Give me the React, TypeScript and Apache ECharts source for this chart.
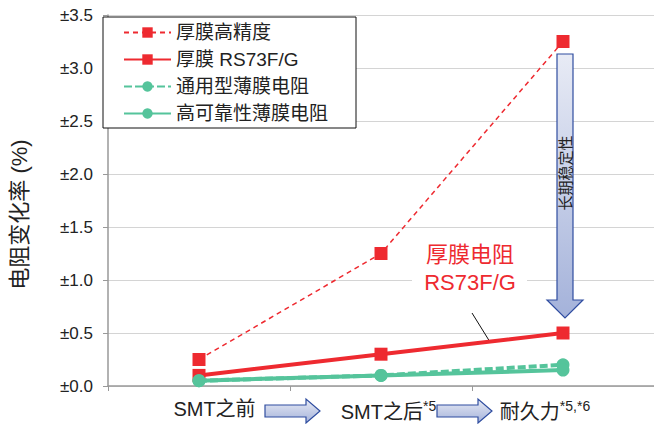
import React, { useEffect, useRef } from "react";
import * as echarts from "echarts";

const categories = ["SMT之前", "SMT之后", "耐久力"];
const categorySup = ["", "*5", "*5,*6"];
const seriesNames = ["厚膜高精度", "厚膜 RS73F/G", "通用型薄膜电阻", "高可靠性薄膜电阻"];
const thickHighPrecision = [0.25, 1.25, 3.25];
const thickRS73 = [0.1, 0.3, 0.5];
const thinGeneral = [0.05, 0.1, 0.2];
const thinHighRel = [0.05, 0.1, 0.15];
const yMin = 0;
const yMax = 3.5;
const yInterval = 0.5;
const yAxisName = "电阻变化率 (%)";
const arrowLabel = "长期稳定性";
const annotationLines = ["厚膜电阻", "RS73F/G"];

const RED = "#ee2a30";
const GREEN = "#55c49b";
const FONT = '"Liberation Sans", "Noto Sans CJK SC", sans-serif';

export default function App() {
  const ref = useRef<HTMLDivElement>(null);
  useEffect(() => {
    if (!ref.current) return;
    const chart = echarts.init(ref.current, null, { renderer: "svg" });
    const blueGrad = (x0: number, y0: number, x1: number, y1: number) =>
      new echarts.graphic.LinearGradient(x0, y0, x1, y1, [
        { offset: 0, color: "#e8ebf5" },
        { offset: 1, color: "#a4b2da" },
      ]);
    const hArrow = (x0: number, x1: number, cy: number) => {
      const hb = x1 - 14;
      return {
        type: "polygon",
        shape: {
          points: [
            [x0, cy - 6],
            [hb, cy - 6],
            [hb, cy - 12],
            [x1, cy],
            [hb, cy + 12],
            [hb, cy + 6],
            [x0, cy + 6],
          ],
        },
        style: { fill: blueGrad(0, 0, 0, 1), stroke: "#2f4da0", lineWidth: 1.2 },
        z: 10,
      };
    };
    const option: any = {
      animation: false,
      textStyle: { fontFamily: FONT },
      grid: { left: 101, top: 15, width: 555, bottom: 38, containLabel: false },
      legend: {
        left: 103,
        top: 17,
        orient: "vertical",
        backgroundColor: "#fff",
        borderColor: "#111",
        borderWidth: 1,
        borderRadius: 0,
        padding: [6, 28, 5, 20],
        itemGap: 8,
        itemWidth: 47,
        itemHeight: 13,
        textStyle: { fontSize: 19, color: "#222", fontFamily: FONT, lineHeight: 19 },
        data: seriesNames,
        z: 20,
      },
      xAxis: {
        type: "category",
        data: categories,
        boundaryGap: true,
        axisLine: { lineStyle: { color: "#999", width: 1.5 } },
        axisTick: { show: true, length: 5, lineStyle: { color: "#999" } },
        axisLabel: {
          margin: 13,
          interval: 0,
          color: "#222",
          formatter: (v: string, i: number) =>
            `{m${i}|${v}}` + (categorySup[i] ? `{s|${categorySup[i]}}` : ""),
          rich: {
            m0: { fontSize: 20, color: "#222", fontFamily: FONT, padding: [0, 0, 0, 31] },
            m1: { fontSize: 20, color: "#222", fontFamily: FONT, padding: [0, 0, 0, 15] },
            m2: { fontSize: 20, color: "#222", fontFamily: FONT, padding: [0, 0, 0, 0] },
            s: {
              fontSize: 14,
              color: "#222",
              fontFamily: FONT,
              padding: [0, 0, 12, 0],
              verticalAlign: "top",
            },
            s2: {
              fontSize: 14,
              color: "#222",
              fontFamily: FONT,
              padding: [0, 36, 12, 0],
              verticalAlign: "top",
            },
          },
        },
        splitLine: { show: false },
      },
      yAxis: {
        type: "value",
        min: yMin,
        max: yMax,
        interval: yInterval,
        name: yAxisName,
        nameLocation: "middle",
        nameRotate: 90,
        nameGap: 78,
        nameTextStyle: {
          fontSize: 22,
          color: "#222",
          fontFamily: FONT,
          padding: [0, 28, 0, 0],
        },
        axisLine: { show: true, lineStyle: { color: "#999", width: 1.5 } },
        axisTick: { show: true, length: 5, lineStyle: { color: "#999" } },
        axisLabel: {
          margin: 15,
          fontSize: 17,
          color: "#222",
          fontFamily: FONT,
          formatter: (v: number) => "±" + v.toFixed(1),
        },
        splitLine: { lineStyle: { color: "#d4d4d4", width: 1.2 } },
      },
      series: [
        {
          name: seriesNames[0],
          type: "line",
          data: thickHighPrecision,
          symbol: "rect",
          symbolSize: 13,
          lineStyle: { color: RED, width: 1.5, type: [5, 4] },
          itemStyle: { color: RED },
          z: 3,
        },
        {
          name: seriesNames[1],
          type: "line",
          data: thickRS73,
          symbol: "rect",
          symbolSize: 13,
          lineStyle: { color: RED, width: 4 },
          itemStyle: { color: RED },
          z: 3,
        },
        {
          name: seriesNames[2],
          type: "line",
          data: thinGeneral,
          symbol: "circle",
          symbolSize: 13,
          lineStyle: { color: GREEN, width: 4, type: [8, 3] },
          itemStyle: { color: GREEN },
          z: 4,
        },
        {
          name: seriesNames[3],
          type: "line",
          data: thinHighRel,
          symbol: "circle",
          symbolSize: 13,
          lineStyle: { color: GREEN, width: 4 },
          itemStyle: { color: GREEN },
          z: 4,
        },
      ],
      graphic: [
        hArrow(265, 320, 411),
        hArrow(437, 492, 411),
        {
          type: "polygon",
          shape: {
            points: [
              [557, 54],
              [573, 54],
              [573, 300],
              [583, 300],
              [565, 318],
              [547, 300],
              [557, 300],
            ],
          },
          style: { fill: blueGrad(0, 0, 0, 1), stroke: "#2f4da0", lineWidth: 1.2 },
          z: 10,
        },
        {
          type: "text",
          x: 565,
          y: 173,
          rotation: Math.PI / 2,
          style: {
            text: arrowLabel,
            fontSize: 15,
            fontFamily: FONT,
            fill: "#222",
            align: "center",
            verticalAlign: "middle",
          },
          z: 11,
        },
        {
          type: "rect",
          shape: { x: 412, y: 240, width: 115, height: 56 },
          style: { fill: "#fff" },
          z: 5,
        },
        {
          type: "text",
          x: 470,
          y: 268,
          style: {
            text: annotationLines.join("\n"),
            fontSize: 22,
            lineHeight: 28,
            fontFamily: FONT,
            fill: RED,
            align: "center",
            verticalAlign: "middle",
          },
          z: 6,
        },
        {
          type: "line",
          shape: { x1: 472, y1: 313, x2: 490, y2: 342 },
          style: { stroke: "#111", lineWidth: 1 },
          z: 2,
        },
      ],
    };
    // use the right-padded superscript style for the last category label
    option.xAxis.axisLabel.formatter = (v: string, i: number) =>
      `{m${i}|${v}}` +
      (categorySup[i] ? `{${i === categories.length - 1 ? "s2" : "s"}|${categorySup[i]}}` : "");
    chart.setOption(option);
    return () => chart.dispose();
  }, []);
  return (
    <div
      ref={ref}
      style={{ position: "fixed", left: 0, top: 0, width: 654, height: 424, background: "#fff" }}
    />
  );
}
